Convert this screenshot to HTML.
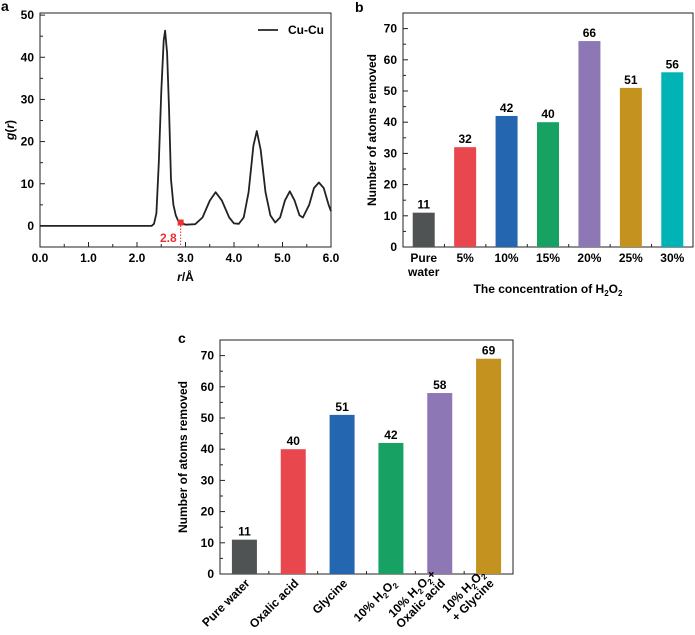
<!DOCTYPE html>
<html><head><meta charset="utf-8"><style>
html,body{margin:0;padding:0;background:#fff;}
svg{display:block;font-family:"Liberation Sans",Arial,sans-serif;font-weight:bold;}
</style></head><body>
<svg id="fig" width="695" height="635" viewBox="0 0 695 635" xmlns="http://www.w3.org/2000/svg"></svg>
<script>
// Panel a data
const rdfR = [0,2.3,2.35,2.4,2.45,2.5,2.55,2.58,2.62,2.66,2.7,2.75,2.8,2.85,2.9,3.0,3.2,3.35,3.5,3.62,3.75,3.9,4.0,4.1,4.2,4.3,4.4,4.47,4.55,4.65,4.75,4.85,4.95,5.05,5.15,5.25,5.35,5.42,5.55,5.65,5.75,5.85,5.95,6.0];
const rdfG = [0,0,0.5,3,15,32,44,46.3,41,28,11,5,2.5,1.2,0.8,0.3,0.4,2,6,8,6,2,0.6,0.5,2,8,19,22.5,18,8,2.5,0.8,2,6,8.2,6,2.5,2,5,9,10.3,9,5,3.5];
const aXTicks = [0,1,2,3,4,5,6];
const aXLabels = ["0.0","1.0","2.0","3.0","4.0","5.0","6.0"];
const aYTicks = [0,10,20,30,40,50];
const markR = 2.9, markG = 0.8, markLabel = "2.8";
// Panel b data
const bCats = ["Pure|water","5%","10%","15%","20%","25%","30%"];
const bVals = [11,32,42,40,66,51,56];
const bColors = ["#4f5354","#e8474d","#2566b0","#17a264","#8e77b5","#c4921e","#00b4b5"];
const barYTicks = [0,10,20,30,40,50,60,70];
// Panel c data
const cCats = ["Pure water","Oxalic acid","Glycine","10% H2O2","10% H2O2+|Oxalic acid","10% H2O2|+ Glycine"];
const cVals = [11,40,51,42,58,69];
const cColors = ["#4f5354","#e8474d","#2566b0","#17a264","#8e77b5","#c4921e"];

const NS="http://www.w3.org/2000/svg";
const svg=document.getElementById('fig');
function mk(tag,attrs,parent,text){const e=document.createElementNS(NS,tag);for(const k in attrs)e.setAttribute(k,attrs[k]);if(text!==undefined)e.textContent=text;(parent||svg).appendChild(e);return e;}
function h2o2(el,str){
  const parts=str.split(/(H2O2)/);
  let shifted=false;
  parts.forEach(p=>{ if(p==="H2O2"){mk('tspan',{},el,'H');mk('tspan',{'font-size':'8','dy':'3'},el,'2');mk('tspan',{'dy':'-3'},el,'O');mk('tspan',{'font-size':'8','dy':'3'},el,'2');shifted=true;}
    else if(p){ if(shifted){mk('tspan',{'dy':'-3'},el,p);shifted=false;} else mk('tspan',{},el,p);} });
}

// ---------- Panel a ----------
{
const L=40,R=331,T=13,B=247, xmin=0,xmax=6,ymin=-5,ymax=50.5;
const sx=v=>L+(v-xmin)/(xmax-xmin)*(R-L), sy=v=>B-(v-ymin)/(ymax-ymin)*(B-T);
const g=mk('g',{});


const lbl=mk('text',{x:1,y:11,'font-size':'14'},g,'a');

const fr=mk('rect',{x:L,y:T,width:R-L,height:B-T,fill:'none',stroke:'#222','stroke-width':1},g);

aXTicks.forEach((t,i)=>{const x=sx(t);mk('line',{x1:x,x2:x,y1:B,y2:B-5,stroke:'#222'},g);
  if(i<aXTicks.length-1)mk('line',{x1:sx(t+0.5),x2:sx(t+0.5),y1:B,y2:B-3,stroke:'#222'},g);
  const tx=mk('text',{x:x,y:B+15,'font-size':'12','text-anchor':'middle'},g,aXLabels[i]);
  });
aYTicks.forEach(t=>{const y=sy(t);mk('line',{x1:L,x2:L+5,y1:y,y2:y,stroke:'#222'},g);
  if(t<50)mk('line',{x1:L,x2:L+3,y1:sy(t+5),y2:sy(t+5),stroke:'#222'},g);
  const tx=mk('text',{x:L-6,y:y+4,'font-size':'12','text-anchor':'end'},g,String(t));
  });
mk('line',{x1:L,x2:L+3,y1:sy(-5),y2:sy(-5),stroke:'#222'},g);
const xt=mk('text',{x:(L+R)/2,y:281,'font-size':'12','text-anchor':'middle'},g);
mk('tspan',{'font-style':'italic'},xt,'r');mk('tspan',{},xt,'/Å');

const yt=mk('text',{transform:`translate(14,${(T+B)/2}) rotate(-90)`,'font-size':'12','text-anchor':'middle'},g);
mk('tspan',{'font-style':'italic'},yt,'g');mk('tspan',{},yt,'(');mk('tspan',{'font-style':'italic'},yt,'r');mk('tspan',{},yt,')');

let d='';rdfR.forEach((r,i)=>{d+=(i?'L':'M')+sx(r).toFixed(1)+','+sy(rdfG[i]).toFixed(1);});
const ln=mk('path',{d:d,fill:'none',stroke:'#222','stroke-width':1.8,'stroke-linejoin':'round'},g);

const dl=mk('line',{x1:sx(markR),x2:sx(markR),y1:sy(markG),y2:B,stroke:'#f03030','stroke-dasharray':'1.5,1.5'},g);

const mr=mk('rect',{x:sx(markR)-3,y:sy(markG)-3,width:6,height:6,fill:'#f03030'},g);

const ml=mk('text',{x:sx(markR)-4,y:B-5,'font-size':'12','text-anchor':'end',fill:'#f03030'},g,markLabel);

const lg=mk('g',{},g);
mk('line',{x1:258,x2:278,y1:30,y2:30,stroke:'#222','stroke-width':1.8},lg);
mk('text',{x:288,y:34,'font-size':'12'},lg,'Cu-Cu');
}

function barChart(o){
const {L,R,T,B,cats,vals,colors,name,bw}=o;
const ymin=0,ymax=75, sy=v=>B-(v-ymin)/(ymax-ymin)*(B-T);
const band=(R-L)/cats.length, cx=i=>L+band*(i+0.5);
const g=mk('g',{});


const fr=mk('rect',{x:L,y:T,width:R-L,height:B-T,fill:'none',stroke:'#222','stroke-width':1},g);

barYTicks.forEach(t=>{const y=sy(t);mk('line',{x1:L,x2:L+5,y1:y,y2:y,stroke:'#222'},g);
  mk('line',{x1:L,x2:L+3,y1:sy(t+5),y2:sy(t+5),stroke:'#222'},g);
  const tx=mk('text',{x:L-6,y:y+4,'font-size':'12','text-anchor':'end'},g,String(t));
  });
cats.forEach((c,i)=>{
  const x=cx(i);mk('line',{x1:x,x2:x,y1:B,y2:B-4,stroke:'#222'},g);
  if(i>0)mk('line',{x1:x-band/2,x2:x-band/2,y1:B,y2:B-3,stroke:'#222'},g);
  const r=mk('rect',{x:x-bw/2,y:sy(vals[i]),width:bw,height:B-sy(vals[i]),fill:colors[i]},g);
  
  const v=mk('text',{x:x,y:sy(vals[i])-4,'font-size':'12','text-anchor':'middle'},g,String(vals[i]));
  
  o.catLabel(g,c,x,i);
});
return g;
}

// ---------- Panel b ----------
{
const g=barChart({L:403,R:693,T:13,B:247,cats:bCats,vals:bVals,colors:bColors,name:'panel-b-h2o2-bar-chart',bw:22,
 catLabel:(g,c,x)=>{const lines=c.split('|');lines.forEach((s,k)=>{const t=mk('text',{x:x,y:262+k*14,'font-size':'12','text-anchor':'middle'},g,s);
   });}});
const lb=mk('text',{x:355,y:12,'font-size':'14'},g,'b');
const xt=mk('text',{x:548,y:293,'font-size':'12','text-anchor':'middle'},g);h2o2(xt,'The concentration of H2O2');

const yt=mk('text',{transform:'translate(376,130) rotate(-90)','font-size':'12','text-anchor':'middle'},g,'Number of atoms removed');

}

// ---------- Panel c ----------
{
const g=barChart({L:220,R:513,T:340,B:574,cats:cCats,vals:cVals,colors:cColors,name:'panel-c-additive-bar-chart',bw:25,
 catLabel:(g,c,x)=>{const lines=c.split('|');const n=lines.length;
   lines.forEach((s,k)=>{const off=(k-(n-1))*13;
     const t=mk('text',{transform:`translate(${x+6+off*0.707},${584+off*0.707}) rotate(-45)`,'font-size':'12','text-anchor':'end'},g);
     h2o2(t,s);});}});
const lb=mk('text',{x:178,y:343,'font-size':'14'},g,'c');
const yt=mk('text',{transform:'translate(187,457) rotate(-90)','font-size':'12','text-anchor':'middle'},g,'Number of atoms removed');

}
</script>
</body></html>
